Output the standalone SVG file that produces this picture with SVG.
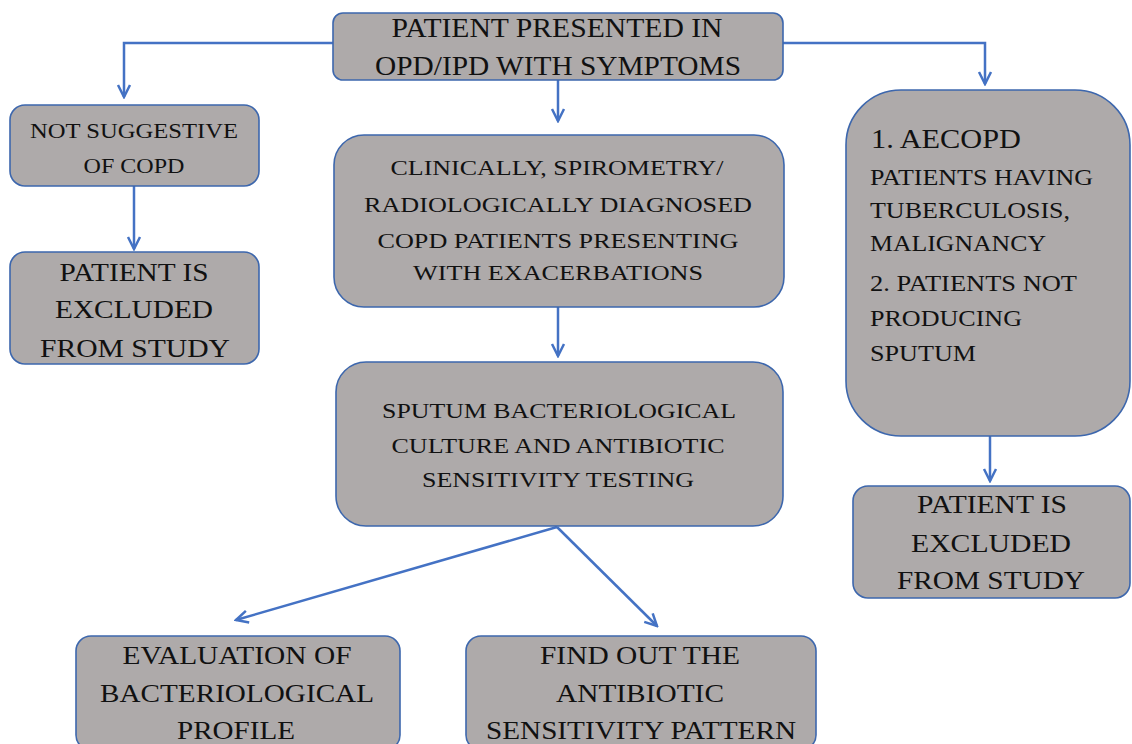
<svg xmlns="http://www.w3.org/2000/svg" width="1132" height="744" viewBox="0 0 1132 744">
<defs>
<style>
.box{fill:#aeaaaa;stroke:#3d67ad;stroke-width:1.6}
.t{font-family:"Liberation Serif","Times New Roman",serif;fill:#111;text-anchor:middle}
.tl{font-family:"Liberation Serif","Times New Roman",serif;fill:#111;text-anchor:start}
.c{fill:none;stroke:#4472c4;stroke-width:2.5}
</style>
<marker id="ah" viewBox="0 0 16 16" refX="14" refY="8" markerWidth="16" markerHeight="16" markerUnits="userSpaceOnUse" orient="auto">
<path d="M2,2 L14,8 L2,14" fill="none" stroke="#4472c4" stroke-width="2.5"/>
</marker>
</defs>
<rect width="1132" height="744" fill="#fff"/>
<g id="connectors">
<path class="c" d="M333,43 H124 V97" marker-end="url(#ah)"/>
<path class="c" d="M783,43 H985 V84" marker-end="url(#ah)"/>
<path class="c" d="M558,80 V121" marker-end="url(#ah)"/>
<path class="c" d="M134,186 V249" marker-end="url(#ah)"/>
<path class="c" d="M558,307 V356" marker-end="url(#ah)"/>
<path class="c" d="M990,436 V481" marker-end="url(#ah)"/>
<path class="c" d="M557,527 L236,620" marker-end="url(#ah)"/>
<path class="c" d="M557,527 L657,626" marker-end="url(#ah)"/>
</g>
<g id="start">
<rect class="box" x="333" y="13" width="450" height="67" rx="10"/>
<text class="t" font-size="27"><tspan x="557" y="37" textLength="331" lengthAdjust="spacingAndGlyphs">PATIENT PRESENTED IN</tspan><tspan x="558" y="75" textLength="366" lengthAdjust="spacingAndGlyphs">OPD/IPD WITH SYMPTOMS</tspan></text>
</g>
<g id="not-suggestive">
<rect class="box" x="10" y="105" width="249" height="81" rx="15"/>
<text class="t" font-size="22"><tspan x="134" y="138" textLength="208" lengthAdjust="spacingAndGlyphs">NOT SUGGESTIVE</tspan><tspan x="134" y="173" textLength="101" lengthAdjust="spacingAndGlyphs">OF COPD</tspan></text>
</g>
<g id="excluded-left">
<rect class="box" x="10" y="252" width="249" height="112" rx="15"/>
<text class="t" font-size="26"><tspan x="134" y="281" textLength="149" lengthAdjust="spacingAndGlyphs">PATIENT IS</tspan><tspan x="134" y="318" textLength="158" lengthAdjust="spacingAndGlyphs">EXCLUDED</tspan><tspan x="135" y="357" textLength="190" lengthAdjust="spacingAndGlyphs">FROM STUDY</tspan></text>
</g>
<g id="copd-patients">
<rect class="box" x="334" y="135" width="450" height="172" rx="30"/>
<text class="t" font-size="22"><tspan x="557" y="175" textLength="333" lengthAdjust="spacingAndGlyphs">CLINICALLY, SPIROMETRY/</tspan><tspan x="558" y="212" textLength="388" lengthAdjust="spacingAndGlyphs">RADIOLOGICALLY DIAGNOSED</tspan><tspan x="558" y="248" textLength="361" lengthAdjust="spacingAndGlyphs">COPD PATIENTS PRESENTING</tspan><tspan x="558" y="280" textLength="290" lengthAdjust="spacingAndGlyphs">WITH EXACERBATIONS</tspan></text>
</g>
<g id="sputum-culture">
<rect class="box" x="336" y="362" width="447" height="164" rx="30"/>
<text class="t" font-size="22"><tspan x="559" y="418" textLength="354" lengthAdjust="spacingAndGlyphs">SPUTUM BACTERIOLOGICAL</tspan><tspan x="558" y="453" textLength="333" lengthAdjust="spacingAndGlyphs">CULTURE AND ANTIBIOTIC</tspan><tspan x="558" y="487" textLength="272" lengthAdjust="spacingAndGlyphs">SENSITIVITY TESTING</tspan></text>
</g>
<g id="exclusion-criteria">
<rect class="box" x="846" y="90" width="284" height="346" rx="55"/>
<text class="tl" font-size="27"><tspan x="871" y="148" textLength="150" lengthAdjust="spacingAndGlyphs">1. AECOPD</tspan></text>
<text class="tl" font-size="23"><tspan x="870" y="185" textLength="223" lengthAdjust="spacingAndGlyphs">PATIENTS HAVING</tspan><tspan x="870" y="218" textLength="200" lengthAdjust="spacingAndGlyphs">TUBERCULOSIS,</tspan><tspan x="870" y="251" textLength="176" lengthAdjust="spacingAndGlyphs">MALIGNANCY</tspan><tspan x="870" y="291" textLength="207" lengthAdjust="spacingAndGlyphs">2. PATIENTS NOT</tspan><tspan x="870" y="326" textLength="152" lengthAdjust="spacingAndGlyphs">PRODUCING</tspan><tspan x="870" y="361" textLength="106" lengthAdjust="spacingAndGlyphs">SPUTUM</tspan></text>
</g>
<g id="excluded-right">
<rect class="box" x="853" y="486" width="277" height="112" rx="15"/>
<text class="t" font-size="26"><tspan x="992" y="513" textLength="150" lengthAdjust="spacingAndGlyphs">PATIENT IS</tspan><tspan x="991" y="552" textLength="160" lengthAdjust="spacingAndGlyphs">EXCLUDED</tspan><tspan x="991" y="589" textLength="188" lengthAdjust="spacingAndGlyphs">FROM STUDY</tspan></text>
</g>
<g id="bacteriological-profile">
<rect class="box" x="76" y="636" width="324" height="114" rx="15"/>
<text class="t" font-size="26"><tspan x="237" y="664" textLength="229" lengthAdjust="spacingAndGlyphs">EVALUATION OF</tspan><tspan x="237" y="702" textLength="274" lengthAdjust="spacingAndGlyphs">BACTERIOLOGICAL</tspan><tspan x="236" y="739" textLength="118" lengthAdjust="spacingAndGlyphs">PROFILE</tspan></text>
</g>
<g id="sensitivity-pattern">
<rect class="box" x="466" y="636" width="350" height="114" rx="15"/>
<text class="t" font-size="26"><tspan x="640" y="664" textLength="200" lengthAdjust="spacingAndGlyphs">FIND OUT THE</tspan><tspan x="640" y="702" textLength="168" lengthAdjust="spacingAndGlyphs">ANTIBIOTIC</tspan><tspan x="641" y="739" textLength="310" lengthAdjust="spacingAndGlyphs">SENSITIVITY PATTERN</tspan></text>
</g>
</svg>
